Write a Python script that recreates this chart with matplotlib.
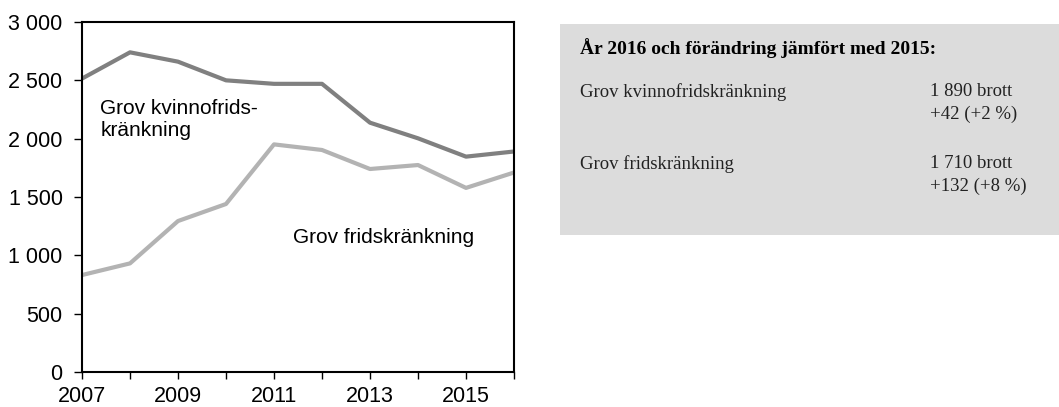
import matplotlib.pyplot as plt
from matplotlib.patches import Rectangle
from matplotlib.ticker import FuncFormatter

years = [2007, 2008, 2009, 2010, 2011, 2012, 2013, 2014, 2015, 2016]
kvinnofrid = [2515, 2740, 2660, 2500, 2470, 2470, 2137, 2003, 1846, 1890]
fridskr = [831, 931, 1294, 1440, 1951, 1903, 1740, 1774, 1578, 1710]
yticks = [0, 500, 1000, 1500, 2000, 2500, 3000]
xlabels = [2007, 2009, 2011, 2013, 2015]

W, H = 1059, 407
fig = plt.figure(figsize=(W / 100, H / 100), dpi=100)
ax = fig.add_axes([82 / W, 35 / H, 432 / W, 350 / H])

ax.plot(years, kvinnofrid, color="#808080", lw=3, solid_capstyle="butt")
ax.plot(years, fridskr, color="#b3b3b3", lw=3, solid_capstyle="butt")

ax.set_xlim(2007, 2016)
ax.set_ylim(0, 3000)
ax.set_yticks(yticks)
ax.yaxis.set_major_formatter(FuncFormatter(lambda v, p: f"{int(v):,}".replace(",", " ")))
ax.set_xticks(years)
ax.set_xticklabels([str(y) if y in xlabels else "" for y in years])
for s in ax.spines.values():
    s.set_linewidth(1.5)
ax.tick_params(direction="out", length=5, width=1, labelsize=15.5, pad=5)
ax.tick_params(axis="y", length=6, pad=8)
for lab in ax.get_xticklabels() + ax.get_yticklabels():
    lab.set_family("Liberation Sans")

ax.text(2007.38, 2165, "Grov kvinnofrids-\nkränkning", fontsize=15,
        family="Liberation Sans", va="center", linespacing=1.15)
ax.text(2011.4, 1150, "Grov fridskränkning", fontsize=15,
        family="Liberation Sans", va="center")

# info box
fig.patches.append(Rectangle((560 / W, 1 - 235 / H), (W - 560) / W, 211 / H,
                             transform=fig.transFigure, facecolor="#dcdcdc",
                             edgecolor="none"))
serif = "Liberation Serif"
fig.text(580 / W, 1 - 48 / H, "År 2016 och förändring jämfört med 2015:",
         fontsize=14, family=serif, weight="bold", va="center")
rows = [
    ("Grov kvinnofridskränkning", "1 890 brott", "+42 (+2 %)", 92),
    ("Grov fridskränkning", "1 710 brott", "+132 (+8 %)", 164),
]
for name, n, ch, y in rows:
    fig.text(580 / W, 1 - y / H, name, fontsize=13.5, family=serif, va="center", color="#222222")
    fig.text(930 / W, 1 - y / H, n, fontsize=13.5, family=serif, va="center", color="#222222")
    fig.text(930 / W, 1 - (y + 22) / H, ch, fontsize=13.5, family=serif, va="center", color="#222222")

fig.savefig("out.png", dpi=100)
